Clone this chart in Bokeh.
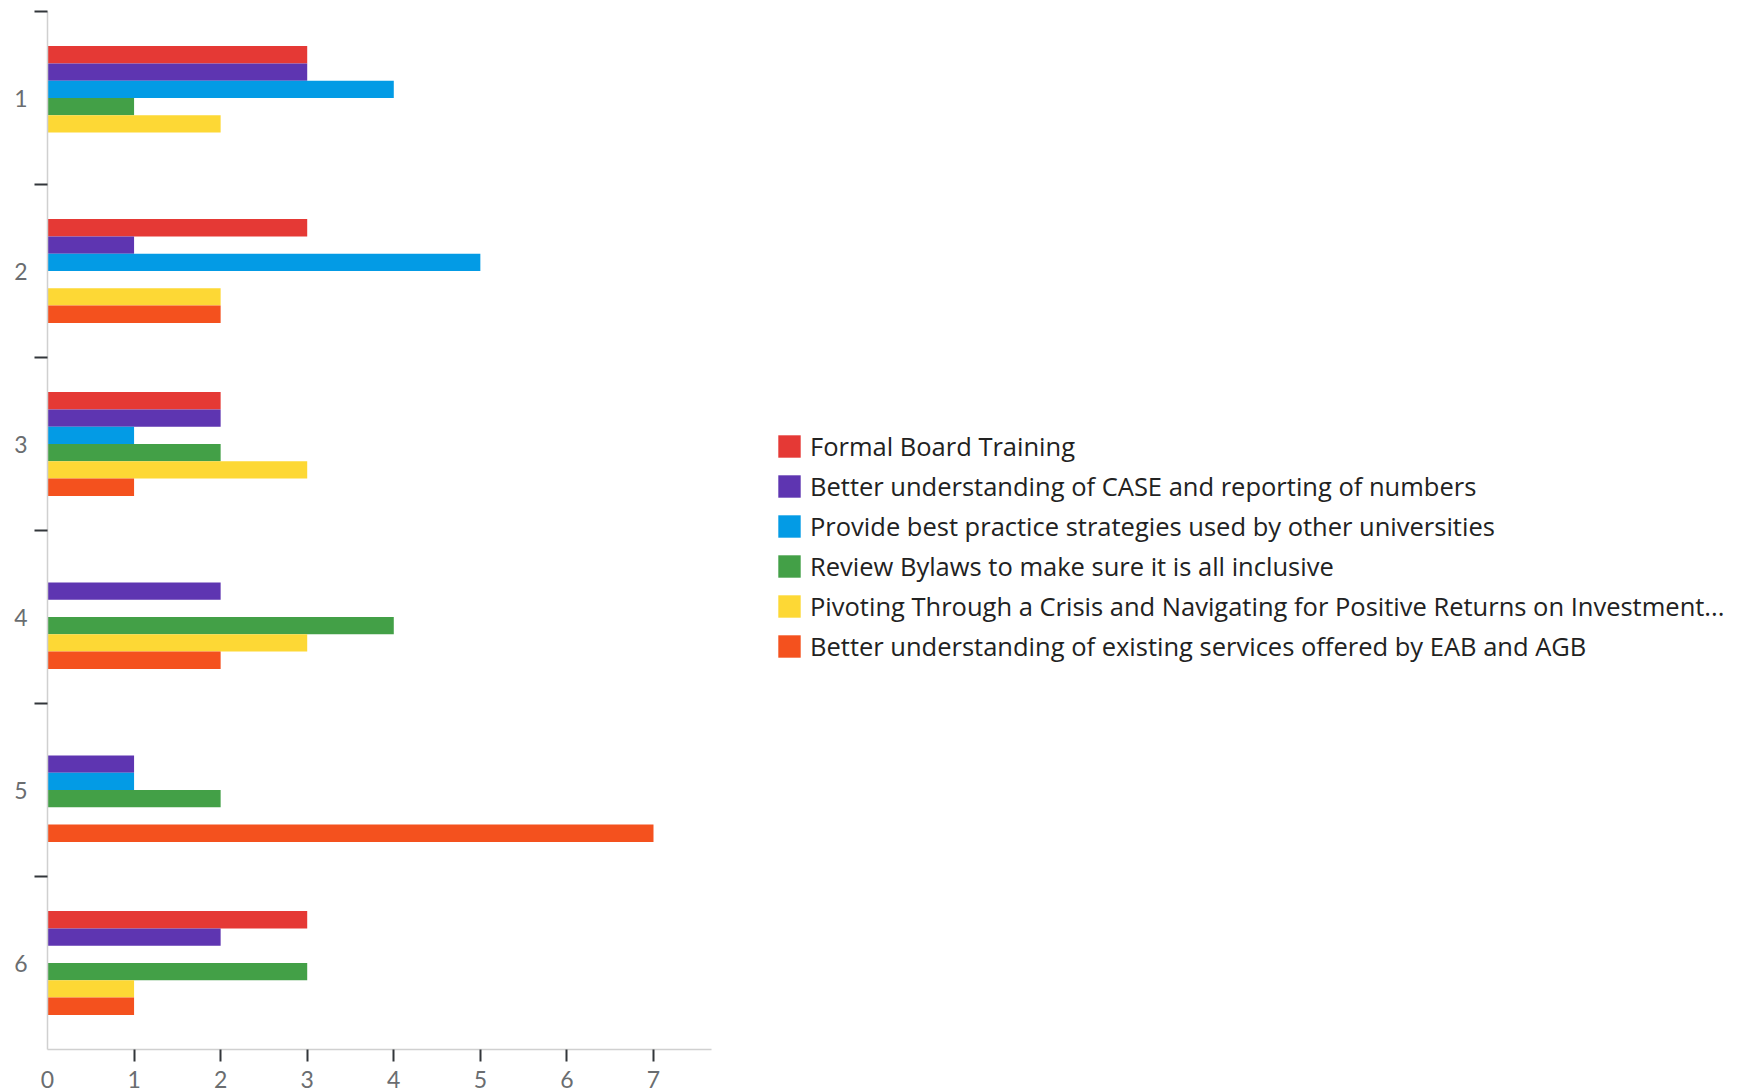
from bokeh.plotting import figure
from bokeh.layouts import row
from bokeh.models import Range1d, FixedTicker, Legend, LegendItem, ColumnDataSource
from bokeh.transform import dodge
from bokeh.embed import file_html
from bokeh.resources import INLINE

# ---- data ----
categories = [1, 2, 3, 4, 5, 6]
series_names = [
    "Formal Board Training",
    "Better understanding of CASE and reporting of numbers",
    "Provide best practice strategies used by other universities",
    "Review Bylaws to make sure it is all inclusive",
    "Pivoting Through a Crisis and Navigating for Positive Returns on Investment...",
    "Better understanding of existing services offered by EAB and AGB",
]
formal_board_training = [3, 3, 2, 0, 0, 3]
case_reporting = [3, 1, 2, 2, 1, 2]
best_practice = [4, 5, 1, 0, 1, 0]
review_bylaws = [1, 0, 2, 4, 2, 3]
pivoting_crisis = [2, 2, 3, 3, 0, 1]
eab_agb_services = [0, 2, 1, 2, 7, 1]
series_values = [formal_board_training, case_reporting, best_practice,
                 review_bylaws, pivoting_crisis, eab_agb_services]
colors = ["#E53935", "#5E35B1", "#039BE5", "#43A047", "#FDD835", "#F4511E"]
x_ticks = [0, 1, 2, 3, 4, 5, 6, 7]

TICK_FONT = "Lato"
LEGEND_FONT = "Open Sans"

# ---- chart ----
p = figure(width=712, height=1090, output_backend="svg", toolbar_location=None,
           x_range=Range1d(0, 7.67), y_range=Range1d(6.5, 0.5),
           min_border_left=47, min_border_right=1, min_border_top=11,
           min_border_bottom=40)
p.outline_line_color = None
p.xgrid.visible = False
p.ygrid.visible = False
p.background_fill_color = "white"
p.border_fill_color = "white"

bar_h = 0.1
for j, (name, vals, col) in enumerate(zip(series_names, series_values, colors)):
    src = ColumnDataSource(dict(cat=categories, val=vals))
    p.hbar(y=dodge("cat", -0.25 + bar_h * j, range=p.y_range), right="val", left=0,
           height=bar_h, source=src, fill_color=col, line_color=None)

for ax in (p.xaxis[0], p.yaxis[0]):
    ax.axis_line_color = "#d0d0d0"
    ax.axis_line_width = 1.5
    ax.major_tick_out = 0
    ax.major_tick_in = 0
    ax.minor_tick_in = 0
    ax.minor_tick_line_color = "#32363a"
    ax.minor_tick_line_width = 2
    ax.major_label_text_color = "#6a6d70"
    ax.major_label_text_font = TICK_FONT
    ax.major_label_text_font_size = "23px"

p.xaxis.ticker = FixedTicker(ticks=x_ticks, minor_ticks=x_ticks[1:])
p.xaxis.minor_tick_out = 12
p.xaxis.major_label_standoff = 9

p.yaxis.ticker = FixedTicker(ticks=categories,
                             minor_ticks=[c - 0.5 for c in categories])
p.yaxis.minor_tick_out = 13
p.yaxis.major_label_standoff = 7

# ---- legend panel (swatches reuse the series colours) ----
lp = figure(width=1028, height=1090, output_backend="svg", toolbar_location=None,
            x_range=Range1d(0, 1), y_range=Range1d(0, 1),
            x_axis_type=None, y_axis_type=None,
            min_border_left=0, min_border_right=0, min_border_top=0,
            min_border_bottom=0)
lp.outline_line_color = None
lp.background_fill_color = "white"
lp.border_fill_color = "white"

items = []
for name, col in zip(series_names, colors):
    src = ColumnDataSource(dict(cat=[-5], val=[0]))
    r = lp.hbar(y="cat", right="val", left=0, height=0.1, source=src,
                fill_color=col, line_color=None)
    items.append(LegendItem(label=name, renderers=[r]))

legend = Legend(items=items, location=(63, 386), orientation="vertical",
                glyph_width=28, glyph_height=28, label_height=28,
                spacing=6, padding=0, margin=0, label_standoff=7,
                border_line_color=None, background_fill_alpha=0,
                label_text_font=LEGEND_FONT, label_text_font_size="25.5px",
                label_text_color="#222222")
lp.add_layout(legend, "center")

layout = row(p, lp, spacing=0)
open("out.html", "w").write(file_html(layout, INLINE))
